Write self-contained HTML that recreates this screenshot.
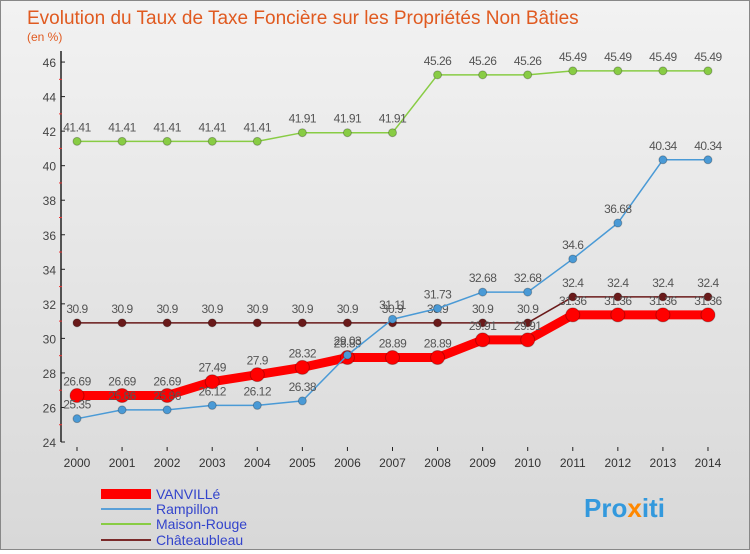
<!DOCTYPE html>
<html><head><meta charset="utf-8"><style>
body{margin:0;width:750px;height:550px;overflow:hidden;font-family:"Liberation Sans",sans-serif}
#wrap{position:relative;width:748px;height:548px;border:1px solid #888;background:linear-gradient(#f2f2f2,#d8d8d8)}
</style></head><body>
<div id="wrap">
<svg id="svg" width="748" height="548">
<text x="26" y="23" font-size="19" fill="#e05a20">Evolution du Taux de Taxe Foncière sur les Propriétés Non Bâties</text>
<text x="26" y="40" font-size="12" fill="#e05a20">(en %)</text>
<g id="axes"></g><g id="series"></g>
<g>
<rect x="100" y="488" width="50" height="10" fill="#ff0000"/>
<text x="155" y="498" font-size="14" fill="#3344cc">VANVILLé</text>
<line x1="100" y1="508" x2="150" y2="508" stroke="#5aa0d8" stroke-width="2"/>
<text x="155" y="513" font-size="14" fill="#3344cc">Rampillon</text>
<line x1="100" y1="523" x2="150" y2="523" stroke="#88cc44" stroke-width="2"/>
<text x="155" y="528" font-size="14" fill="#3344cc">Maison-Rouge</text>
<line x1="100" y1="539" x2="150" y2="539" stroke="#7a2a2a" stroke-width="2"/>
<text x="155" y="544" font-size="14" fill="#3344cc">Châteaubleau</text>
</g>
<text x="583" y="516" font-size="26" font-weight="bold" fill="#3399dd">Pro<tspan fill="#ff8800">x</tspan>iti</text>
</svg></div>
<script>
const years=[2000,2001,2002,2003,2004,2005,2006,2007,2008,2009,2010,2011,2012,2013,2014];
const vanville=[26.69,26.69,26.69,27.49,27.9,28.32,28.89,28.89,28.89,29.91,29.91,31.36,31.36,31.36,31.36];
const rampillon=[25.35,25.86,25.86,26.12,26.12,26.38,29.03,31.11,31.73,32.68,32.68,34.6,36.68,40.34,40.34];
const maisonRouge=[41.41,41.41,41.41,41.41,41.41,41.91,41.91,41.91,45.26,45.26,45.26,45.49,45.49,45.49,45.49];
const chateaubleau=[30.9,30.9,30.9,30.9,30.9,30.9,30.9,30.9,30.9,30.9,30.9,32.4,32.4,32.4,32.4];
const yTicks=[24,26,28,30,32,34,36,38,40,42,44,46];
const NS="http://www.w3.org/2000/svg";
const X=i=>76+i*45.07;
const Y=v=>441-(v-24)*17.27;
function mk(t,a,p){const e=document.createElementNS(NS,t);for(const k in a)e.setAttribute(k,a[k]);p.appendChild(e);return e;}
const ax=document.getElementById('axes');
const yl=mk('line',{x1:60,y1:50,x2:60,y2:441,stroke:'#222','stroke-width':1.5},ax);


yTicks.forEach(v=>{
 const t=mk('text',{x:55,y:Y(v)+5,'font-size':12,fill:'#444','text-anchor':'end'},ax);t.textContent=v;
 
 
 mk('line',{x1:60,y1:Y(v),x2:64,y2:Y(v),stroke:'#222'},ax);
 if(v<46)mk('line',{x1:58,y1:Y(v+1),x2:61,y2:Y(v+1),stroke:'#e33'},ax);
});
years.forEach((y,i)=>{
 mk('line',{x1:X(i),y1:446,x2:X(i),y2:450,stroke:'#222'},ax);
 const t=mk('text',{x:X(i),y:466,'font-size':12,fill:'#333','text-anchor':'middle'},ax);t.textContent=y;
 
 
});
const sg=document.getElementById('series');
function series(name,data,color,w,r){
 const g=mk('g',{},sg);
 
 
 mk('polyline',{points:data.map((v,i)=>X(i)+','+Y(v)).join(' '),fill:'none',stroke:color,'stroke-width':w,'stroke-linejoin':'round'},g);
 data.forEach((v,i)=>{
  const c=mk('circle',{cx:X(i),cy:Y(v),r:r,fill:color,stroke:'rgba(0,0,0,0.25)'},g);
  
  
  const t=mk('text',{x:X(i),y:Y(v)-10,'font-size':12,fill:'#555','text-anchor':'middle','letter-spacing':'-0.5'},g);t.textContent=v;
  
  
 });
}
series('maison-rouge',maisonRouge,'#88cc44',1.5,4);
series('chateaubleau',chateaubleau,'#6a1a1a',1.5,4);
series('vanville',vanville,'#ff0000',9,7);
series('rampillon',rampillon,'#4a9ad6',1.5,4);
</script>
</body></html>
